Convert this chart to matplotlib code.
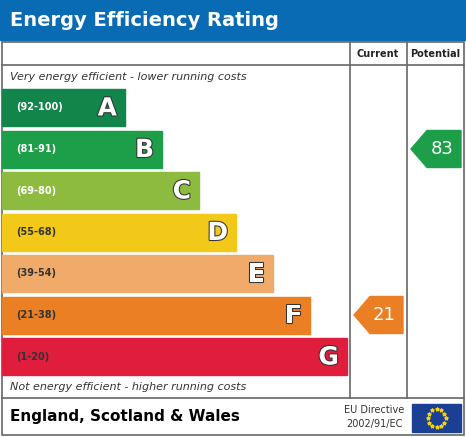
import numpy as np
import matplotlib.pyplot as plt
import matplotlib.patheffects as pe
from matplotlib.patches import Rectangle, Polygon

bands = ['A', 'B', 'C', 'D', 'E', 'F', 'G']
ranges = ['(92-100)', '(81-91)', '(69-80)', '(55-68)', '(39-54)', '(21-38)', '(1-20)']
lows = [92, 81, 69, 55, 39, 21, 1]
colors = ['#12854b', '#1c9f48', '#8dbb40', '#f2c918', '#f0aa6a', '#ea7f23', '#e01d3d']
current = 21
potential = 83

W, H = 466, 437
fig = plt.figure(figsize=(W / 100, H / 100), dpi=100)
ax = fig.add_axes([0, 0, 1, 1])
ax.set_xlim(0, W)
ax.set_ylim(H, 0)
ax.axis('off')

# title bar
ax.add_patch(Rectangle((0, 0), W, 40, color='#0a6bb5'))
ax.text(10, 20, 'Energy Efficiency Rating', color='white', fontsize=14,
        fontweight='bold', va='center', ha='left')

# frame
line = dict(color='#666666', lw=1.2)
ax.add_patch(Rectangle((2, 42), W - 4, H - 44, fill=False, ec='#666666', lw=1.2))
ax.plot([2, W - 2], [65, 65], **line)
ax.plot([2, W - 2], [398, 398], **line)
ax.plot([350, 350], [42, 398], **line)
ax.plot([407, 407], [42, 398], **line)
ax.text(378, 54, 'Current', fontsize=7, fontweight='bold', ha='center', va='center', color='#222')
ax.text(435, 54, 'Potential', fontsize=7, fontweight='bold', ha='center', va='center', color='#222')
ax.text(10, 77, 'Very energy efficient - lower running costs', fontsize=8,
        style='italic', color='#333', va='center')
ax.text(10, 387, 'Not energy efficient - higher running costs', fontsize=8,
        style='italic', color='#333', va='center')

top0, pitch, bh = 89, 41.5, 37
for i, (b, r, c) in enumerate(zip(bands, ranges, colors)):
    y = top0 + i * pitch
    right = 125 + i * 37
    ax.add_patch(Rectangle((2, y), right - 2, bh, color=c))
    ax.text(16, y + bh / 2, r, fontsize=7, fontweight='bold', va='center',
            color='white' if i < 3 else '#333')
    ax.text(right - 8, y + bh / 2 + 1, b, fontsize=18, fontweight='bold',
            va='center', ha='right', color='white',
            path_effects=[pe.withStroke(linewidth=1.5, foreground='#333')])


def band_of(v):
    for i, lo in enumerate(lows):
        if v >= lo:
            return i
    return len(lows) - 1


def arrow(v, x0, x1):
    i = band_of(v)
    y = top0 + i * pitch
    pts = [(x0, y + bh / 2), (x0 + 16, y), (x1, y), (x1, y + bh), (x0 + 16, y + bh)]
    ax.add_patch(Polygon(pts, color=colors[i]))
    ax.text((x0 + 16 + x1) / 2 - 2, y + bh / 2, str(v), fontsize=13, color='white',
            ha='center', va='center')


arrow(current, 354, 403)
arrow(potential, 411, 461)

# footer
ax.text(10, 417, 'England, Scotland & Wales', fontsize=11, fontweight='bold', va='center')
ax.text(374, 410, 'EU Directive', fontsize=7, ha='center', va='center', color='#333')
ax.text(374, 424, '2002/91/EC', fontsize=7, ha='center', va='center', color='#333')
ax.add_patch(Rectangle((412, 404), 49, 28, color='#1b3f94'))
ang = np.linspace(0, 2 * np.pi, 12, endpoint=False)
ax.scatter(436.5 + 9 * np.cos(ang), 418 + 9 * np.sin(ang), marker='*', s=6, color='#f5d20a', zorder=3)

fig.savefig('out.png', dpi=100)
